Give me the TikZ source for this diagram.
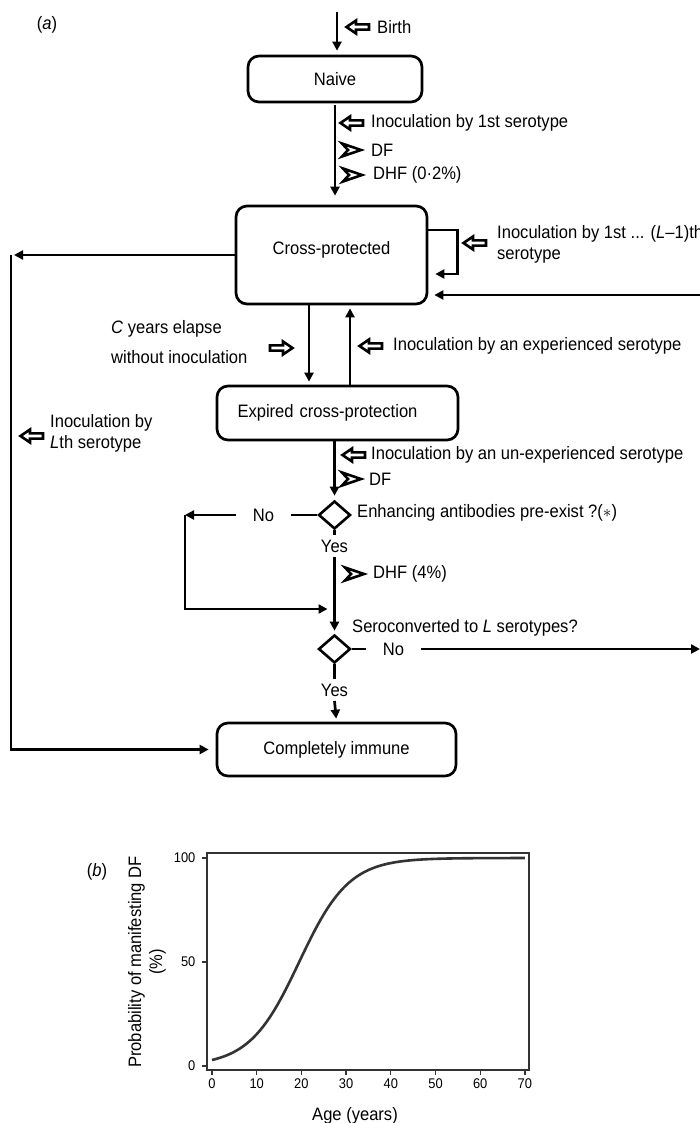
\documentclass[tikz,border=0pt]{standalone}
\usepackage{fontspec}
\setmainfont{Liberation Sans}[FakeStretch=0.92]
\usetikzlibrary{arrows.meta,shapes.geometric}
\newcommand{\flowfont}{\fontsize{18}{21}\selectfont}
\newcommand{\tickfont}{\fontsize{14}{16}\selectfont}

\begin{document}
\begin{tikzpicture}[x=1pt,y=-1pt,font=\flowfont,
  state/.style={draw,line width=2.7pt,rounded corners=11pt,inner sep=0pt},
  decision/.style={draw,diamond,line width=2.6pt,inner sep=0pt,minimum width=32pt,minimum height=28pt},
  flow/.style={line width=2.7pt,-{Triangle[length=9pt,width=9pt]}},
  link/.style={line width=2.7pt},
  note/.style={anchor=west,inner sep=0pt},
  gap/.style={inner xsep=17pt,inner ysep=0pt},
  yesno/.style={inner xsep=0pt,inner ysep=4.5pt},
  inarrow/.pic={\draw[line width=2.6pt,line join=miter] (1.5,0) -- (11,-6.5) -- (11,-2.6) -- (24,-2.6) -- (24,2.6) -- (11,2.6) -- (11,6.5) -- cycle;},
  outarrow/.pic={\draw[line width=2.6pt,line join=miter] (1,-6.5) -- (20,0) -- (1,6.5) -- (7,0) -- cycle;}]
  \useasboundingbox (0,0) rectangle (700,1123);
  % First, panel (a): the states
  \node (labela) at (47,25) {(\textit{a})};
  \node[state,minimum width=174pt,minimum height=46pt] (naive) at (335,79) {Naive};
  \node[state,minimum width=191pt,minimum height=98pt,text height=13pt,text depth=14pt] (cross) at (331.5,255) {Cross-protected};
  \node[state,minimum height=54pt,text width=200pt,inner xsep=20.5pt,align=left] (expired) at (337.5,413) {Expired cross-protection};
  \node[decision] (d1) at (334.5,515) {};
  \node[decision] (d2) at (334.5,649) {};
  \node[state,minimum width=239pt,minimum height=53pt] (immune) at (336.5,749.5) {Completely immune};
  \coordinate (start) at (337,12);
  \coordinate (rail) at (11,255);
  \coordinate (backin) at (700,295);
  \coordinate (nocorner) at (185,515);
  \coordinate (merge) at (334.5,609);
  \coordinate (rightout) at (700,649);

  % Second, the transitions
  \draw[flow,shorten >=4pt] (start) -- (start |- naive.north);
  \pic at (345,27) {inarrow};
  \node[note] (birth) at (377,27) {Birth};

  \draw[flow,shorten <=2pt,shorten >=9pt] (naive.south) -- (naive.south |- cross.north);
  \pic at (339,123) {inarrow};
  \node[note] (inoc1) at (371,123) {Inoculation by 1st serotype};
  \pic at (341,150) {outarrow};
  \node[note] (df1) at (371,150) {DF};
  \pic at (342,175) {outarrow};
  \node[note] (dhf1) at (373,175) {DHF (0·2\%)};

  \draw[flow,shorten >=7pt] ([yshift=25pt]cross.east) -- ++(29,0) |- ([yshift=-19pt]cross.east);
  \pic at (462,243) {inarrow};
  \node[note,align=left] (inocL) at (497,244) {Inoculation by 1st ... (\textit{L}--1)th\\serotype};
  \draw[flow,shorten >=6pt] (backin) -- (backin -| cross.east);

  \draw[flow,shorten >=3pt] (cross.west) -- (rail);
  \draw[flow,shorten >=7pt] (rail) |- (immune.west);
  \pic at (19,436) {inarrow};
  \node[note,align=left] (inocLth) at (50,433) {Inoculation by\\\textit{L}th serotype};

  \draw[flow,shorten >=3pt] ([xshift=-22.5pt]cross.south) -- ([xshift=-22.5pt]cross.south |- expired.north);
  \draw[flow,shorten >=3pt] ([xshift=18.5pt]cross.south |- expired.north) -- ([xshift=18.5pt]cross.south);
  \pic[rotate=180] at (294,348) {inarrow};
  \node[note,align=left] (elapse) at (111,342) {\textit{C} years elapse\\[9pt]without inoculation};
  \pic at (358,346) {inarrow};
  \node[note] (inocexp) at (393,346) {Inoculation by an experienced serotype};

  \draw[flow,shorten >=4pt] (d1.north |- expired.south) -- (d1.north);
  \pic at (341,455) {inarrow};
  \node[note] (inocunexp) at (371,455) {Inoculation by an un-experienced serotype};
  \pic at (341,479) {outarrow};
  \node[note] (df2) at (369,479) {DF};
  \node[note] (enh) at (357,513) {Enhancing antibodies pre-exist ?($\ast$)};

  % Third, the two decisions
  \node[gap] (no1) at (263.5,515) {No};
  \draw[link] (d1.west) -- (no1.east);
  \draw[flow] (no1.west) -- (nocorner);
  \draw[flow,shorten >=7pt] (nocorner) |- (merge);
  \node[yesno] (yes1) at (334.5,546) {Yes};
  \draw[link] (d1.south) -- (yes1.north);
  \draw[flow,shorten >=3pt] (yes1.south) -- (d2.north);
  \pic at (344,574) {outarrow};
  \node[note] (dhf2) at (373,574) {DHF (4\%)};

  \node[note] (sero) at (352,628) {Seroconverted to \textit{L} serotypes?};
  \node[gap] (no2) at (393.5,649) {No};
  \draw[link] (d2.east) -- (no2.west);
  \draw[flow] (no2.east) -- (rightout);
  \node[yesno] (yes2) at (334.5,690) {Yes};
  \draw[link] (d2.south) -- (yes2.north);
  \draw[flow,shorten >=3pt] (yes2.south) -- (immune.north);

  % Last, panel (b): the age curve
  \node (labelb) at (97,872) {(\textit{b})};
  \node[rotate=90,align=center] (problabel) at (147,962) {Probability of manifesting DF\\(\%)};
  \node (agelabel) at (355,1116) {Age (years)};
  \begin{scope}[shift={(212,1066)},x=4.47pt,y=2.08pt]
    \draw[line width=1.3pt,black!80] (-1.12,-1.9) rectangle (70.9,102.4);
    \foreach \v in {0,50,100}
      \draw[line width=1.3pt,black!80] (-1.12,\v) -- ++(-5pt,0) node[left=6pt,inner sep=0pt,font=\tickfont,black] (ytick\v) {\v};
    \foreach \t in {0,10,...,70}
      \draw[line width=1.3pt,black!80] (\t,-1.9) -- ++(0,-5pt) node[below=3pt,inner sep=0pt,font=\tickfont,black] (xtick\t) {\t};
    \draw[line width=2.6pt,black!80] plot[domain=0:70,samples=120,smooth] (\x,{100/(1+exp(-0.18*(\x-19.5)))});
  \end{scope}
\end{tikzpicture}
\end{document}
